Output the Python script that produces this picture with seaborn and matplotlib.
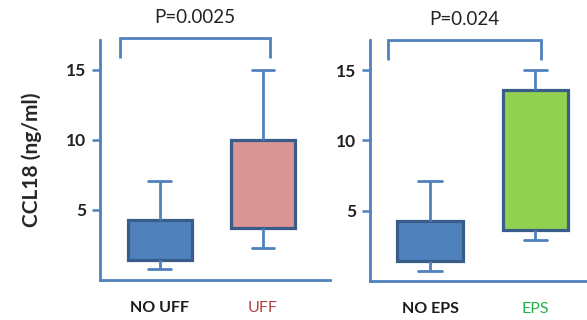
import matplotlib
matplotlib.use("Agg")
import matplotlib.pyplot as plt
import seaborn as sns
import pandas as pd

sns.set_style("white")
plt.rcParams['font.family'] = ['Lato', 'DejaVu Sans']

# five-number summaries (min, q1, median, q3, max)
left_groups = ["NO UFF", "UFF"]
left_min = [0.8, 2.3]
left_q1 = [1.4, 3.7]
left_med = [1.4, 3.7]
left_q3 = [4.3, 10.0]
left_max = [7.1, 15.0]

right_groups = ["NO EPS", "EPS"]
right_min = [0.7, 2.9]
right_q1 = [1.4, 3.6]
right_med = [1.4, 3.6]
right_q3 = [4.3, 13.6]
right_max = [7.1, 15.0]

left_p = "P=0.0025"
right_p = "P=0.024"
y_ticks = [5, 10, 15]
ylabel = "CCL18 (ng/ml)"

BLUE = "#4f81bd"
EDGE = "#385d8a"
left_colors = [BLUE, "#d99694"]
right_colors = [BLUE, "#92d050"]
left_label_colors = ["#1a1a1a", "#b0403c"]
right_label_colors = ["#1a1a1a", "#22b04a"]


def to_df(groups, mins, q1s, meds, q3s, maxs):
    rows = []
    for g, a, b, c, d, e in zip(groups, mins, q1s, meds, q3s, maxs):
        for v in (a, b, c, d, e):
            rows.append({"group": g, "value": v})
    return pd.DataFrame(rows)


fig = plt.figure(figsize=(5.87, 3.2), dpi=100)
ax1 = fig.add_axes([100 / 587, 40 / 320, 230 / 587, 240 / 320])
ax2 = fig.add_axes([370 / 587, 39 / 320, 217 / 587, 241 / 320])


def draw(ax, groups, mins, q1s, meds, q3s, maxs, colors, lcolors, ptxt, xlim, bracket):
    df = to_df(groups, mins, q1s, meds, q3s, maxs)
    sns.boxplot(data=df, x="group", y="value", hue="group", order=groups,
                hue_order=groups, palette=colors, legend=False, ax=ax,
                whis=(0, 100), width=0.62, dodge=False, linewidth=2.3,
                linecolor=EDGE, showfliers=False, saturation=1,
                medianprops={"linewidth": 0},
                whiskerprops={"color": BLUE, "linewidth": 2.0},
                capprops={"color": BLUE, "linewidth": 2.0},
                capwidths=0.22)
    ax.set_ylim(0, 17.14)
    ax.set_xlim(*xlim)
    ax.set_yticks(y_ticks)
    ax.set_yticklabels([str(t) for t in y_ticks], fontweight="bold", fontsize=12.5,
                       color="#222222")
    ax.tick_params(axis="y", length=6, width=1.8, color=BLUE, pad=4, left=True)
    ax.tick_params(axis="x", length=0, pad=15)
    ax.set_xticks(range(len(groups)))
    ax.set_xticklabels(groups, fontsize=11.5)
    for lab, c, g in zip(ax.get_xticklabels(), lcolors, groups):
        lab.set_color(c)
        lab.set_fontweight("bold" if g.startswith("NO") else "normal")
    for s in ["top", "right"]:
        ax.spines[s].set_visible(False)
    for s in ["left", "bottom"]:
        ax.spines[s].set_color(BLUE)
        ax.spines[s].set_linewidth(2.0)
    ax.set_xlabel("")
    ax.set_ylabel("")
    x0, x1, ylow, ytop = bracket
    ax.plot([x0, x0, x1, x1], [ylow, ytop, ytop, ylow], color=BLUE, lw=2.0,
            clip_on=False, solid_capstyle="butt", solid_joinstyle="miter")
    ax.text((x0 + x1) / 2, ytop + 0.85, ptxt, ha="center", va="bottom",
            fontsize=13.5, color="#222222")


draw(ax1, left_groups, left_min, left_q1, left_med, left_q3, left_max,
     left_colors, left_label_colors, left_p, (-0.58, 1.65), (-0.39, 1.07, 15.85, 17.3))
draw(ax2, right_groups, right_min, right_q1, right_med, right_q3, right_max,
     right_colors, right_label_colors, right_p, (-0.57, 1.49), (-0.40, 1.05, 15.7, 17.15))

ax1.set_ylabel(ylabel, fontsize=15, fontweight="bold", labelpad=17)

fig.savefig("out.png", dpi=100)
